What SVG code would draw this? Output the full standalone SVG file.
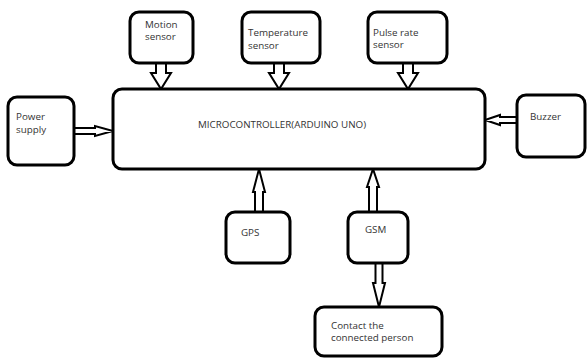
<svg xmlns="http://www.w3.org/2000/svg" width="588" height="358" viewBox="0 0 588 358">
<style>
.box{fill:#fff;stroke:#000;stroke-width:3}
.arr{fill:#fff;stroke:#000;stroke-width:2;stroke-linejoin:miter}
text{font-family:"Open Sans","Liberation Sans",sans-serif;font-size:9.8px;fill:#333}
</style>
<rect width="588" height="358" fill="#fff"/>
<g id="connectors">
<polygon class="arr" points="156,63 166,63 166,73 171,73 161,89 151,73 156,73"/>
<polygon class="arr" points="274,63 284,63 284,73 289,73 279,89 269,73 274,73"/>
<polygon class="arr" points="403,63 413,63 413,73 418,73 408,89 398,73 403,73"/>
<polygon class="arr" points="74,128 95,128 95,126 113,131 95,136 95,134 74,134"/>
<polygon class="arr" points="517,117 500,117 500,115 485,120 500,125 500,123 517,123"/>
<polygon class="arr" points="255,212 255,192 253,192 259,169 265,192 263,192 263,212"/>
<polygon class="arr" points="369,212 369,187 367,187 373,169 379,187 377,187 377,212"/>
<polygon class="arr" points="375.5,263 382.5,263 382.5,283 385,283 379,307 373,283 375.5,283"/>
</g>
<g id="motion"><rect class="box" x="130" y="12" width="63" height="51" rx="9"/><text x="145" y="28">Motion</text><text x="145" y="40">sensor</text></g>
<g id="temperature"><rect class="box" x="242" y="12" width="78" height="51" rx="9"/><text x="248" y="36">Temperature</text><text x="248" y="49">sensor</text></g>
<g id="pulse"><rect class="box" x="368" y="12" width="79" height="51" rx="9"/><text x="373" y="36">Pulse rate</text><text x="373" y="48">sensor</text></g>
<g id="micro"><rect class="box" x="113" y="89" width="372" height="80" rx="9"/><text x="198" y="128">MICROCONTROLLER(ARDUINO UNO)</text></g>
<g id="power"><rect class="box" x="8" y="97" width="66" height="68" rx="9"/><text x="16" y="120">Power</text><text x="16" y="133">supply</text></g>
<g id="buzzer"><rect class="box" x="517" y="95" width="68" height="62" rx="9"/><text x="530" y="120">Buzzer</text></g>
<g id="gps"><rect class="box" x="226" y="212" width="64" height="51" rx="9"/><text x="241" y="236">GPS</text></g>
<g id="gsm"><rect class="box" x="348" y="212" width="60" height="51" rx="9"/><text x="365" y="233">GSM</text></g>
<g id="contact"><rect class="box" x="315" y="307" width="127" height="49" rx="9"/><text x="331" y="329">Contact the</text><text x="331" y="341">connected person</text></g>
</svg>
